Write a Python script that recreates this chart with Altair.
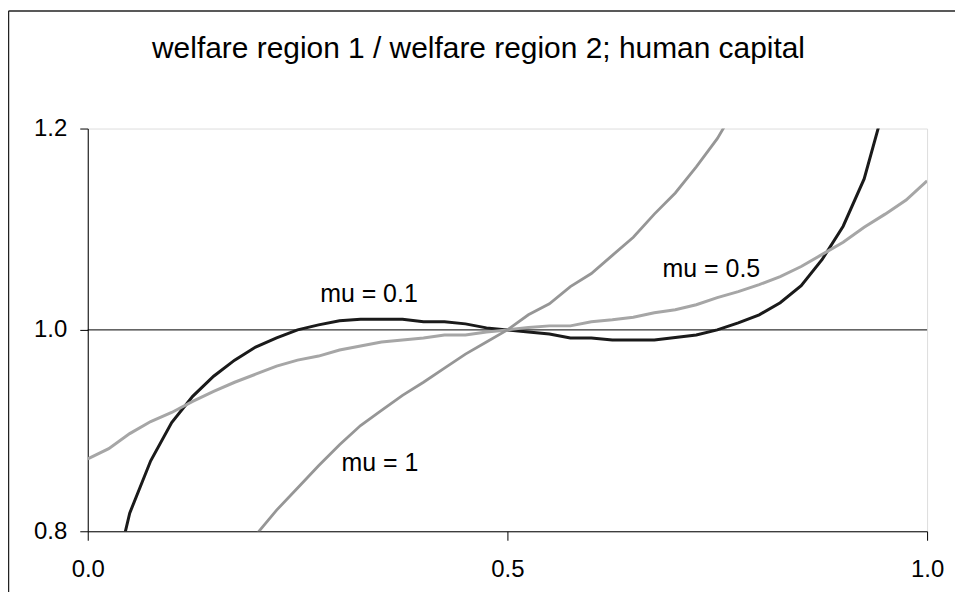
import altair as alt
import pandas as pd

# x grid of the series
x_vals = [0.0, 0.025, 0.05, 0.075, 0.1, 0.125, 0.15, 0.175, 0.2, 0.225,
          0.25, 0.275, 0.3, 0.325, 0.35, 0.375, 0.4, 0.425, 0.45, 0.475,
          0.5, 0.525, 0.55, 0.575, 0.6, 0.625, 0.65, 0.675, 0.7, 0.725,
          0.75, 0.775, 0.8, 0.825, 0.85, 0.875, 0.9, 0.925, 0.95, 0.975, 1.0]

mu_01 = [0.62, 0.73, 0.818, 0.870, 0.908, 0.934, 0.954, 0.970, 0.983, 0.992,
         1.000, 1.005, 1.009, 1.0105, 1.0106, 1.0106, 1.008, 1.008, 1.006, 1.002,
         1.000, 0.998, 0.996, 0.992, 0.992, 0.990, 0.990, 0.990, 0.9925, 0.995,
         1.000, 1.007, 1.015, 1.027, 1.044, 1.070, 1.103, 1.150, 1.225, 1.32, 1.45]

mu_05 = [0.872, 0.882, 0.897, 0.909, 0.918, 0.929, 0.939, 0.948, 0.956, 0.964,
         0.970, 0.974, 0.980, 0.984, 0.988, 0.990, 0.992, 0.995, 0.995, 0.998,
         1.000, 1.0025, 1.004, 1.004, 1.008, 1.010, 1.0125, 1.017, 1.020, 1.025,
         1.032, 1.038, 1.045, 1.053, 1.063, 1.075, 1.087, 1.102, 1.115, 1.129, 1.148]

mu_1 = [0.50, 0.53, 0.56, 0.60, 0.64, 0.68, 0.72, 0.76, 0.796, 0.821,
        0.843, 0.865, 0.886, 0.905, 0.920, 0.935, 0.948, 0.962, 0.976, 0.988,
        1.000, 1.015, 1.026, 1.043, 1.056, 1.074, 1.092, 1.115, 1.136, 1.162,
        1.190, 1.225, 1.26, 1.30, 1.34, 1.39, 1.44, 1.50, 1.56, 1.63, 1.70]

label_text = ["mu = 0.1", "mu = 0.5", "mu = 1"]
label_x = [0.335, 0.743, 0.348]
label_y = [1.0277, 1.0528, 0.8597]

title_text = ["welfare region 1 / welfare region 2; human capital"]

ref_y = [1.0]
x_ticks = [0.0, 0.5, 1.0]
y_ticks = [0.8, 1.0, 1.2]

FONT = "Liberation Sans"

xs = alt.Scale(domain=[0, 1], nice=False, zero=False)
ys = alt.Scale(domain=[0.8, 1.2], nice=False, zero=False)

x_axis = alt.Axis(values=x_ticks, format=".1f", title=None, grid=False,
                  tickSize=9, tickColor="black", domainColor="black",
                  labelFontSize=24, labelColor="black", labelFont=FONT,
                  labelPadding=17, labelFlush=False, labelOverlap=False)
y_axis = alt.Axis(values=y_ticks, format=".1f", title=None, grid=False,
                  tickSize=8, tickColor="black", domainColor="black",
                  labelFontSize=24, labelColor="black", labelFont=FONT,
                  labelPadding=13, labelFlush=False, labelOverlap=False)


def series_line(vals, color, width):
    df = pd.DataFrame({"x": x_vals, "y": vals})
    return alt.Chart(df).mark_line(color=color, strokeWidth=width, clip=True).encode(
        x=alt.X("x:Q", scale=xs, axis=x_axis),
        y=alt.Y("y:Q", scale=ys, axis=y_axis),
    )


ref = alt.Chart(pd.DataFrame({"y": ref_y})).mark_rule(color="black", strokeWidth=1).encode(
    y=alt.Y("y:Q", scale=ys, axis=y_axis)
)

labels = alt.Chart(pd.DataFrame({"x": label_x, "y": label_y, "t": label_text})).mark_text(
    font=FONT, fontSize=25, color="black", align="center", baseline="alphabetic"
).encode(
    x=alt.X("x:Q", scale=xs, axis=x_axis),
    y=alt.Y("y:Q", scale=ys, axis=y_axis),
    text="t:N",
)

title = alt.Chart(pd.DataFrame({"t": title_text})).mark_text(
    font=FONT, fontSize=30, color="black", align="center", baseline="alphabetic"
).encode(
    x=alt.value(392), y=alt.value(-71), text="t:N"
)

border_top = alt.Chart(pd.DataFrame({"d": [0]})).mark_rule(color="#222222", strokeWidth=1.5).encode(
    x=alt.value(-79.5), x2=alt.value(900), y=alt.value(-118)
)
border_left = alt.Chart(pd.DataFrame({"d": [0]})).mark_rule(color="#222222", strokeWidth=1.5).encode(
    x=alt.value(-79.5), y=alt.value(-118), y2=alt.value(500)
)

chart = alt.layer(
    ref,
    series_line(mu_01, "#1a1a1a", 3),
    series_line(mu_05, "#a6a6a6", 3),
    series_line(mu_1, "#969696", 2.8),
    labels,
    title,
    border_top,
    border_left,
).properties(
    width=842,
    height=404,
    autosize=alt.AutoSizeParams(type="none"),
    padding={"left": 80, "top": 120, "right": 28, "bottom": 60},
).configure_view(
    stroke="#808080", strokeWidth=1
).configure(background="white")

chart.save("out.html", embed_options={"renderer": "svg", "actions": False})
